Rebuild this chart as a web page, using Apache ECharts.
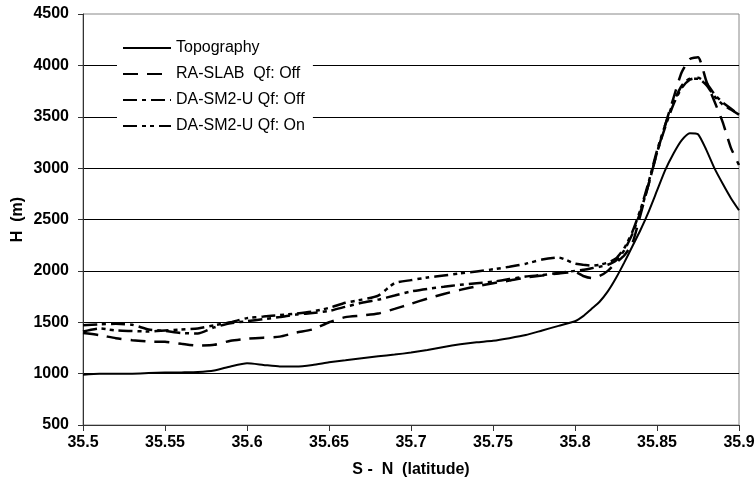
<!DOCTYPE html>
<html>
<head>
<meta charset="utf-8">
<script src="https://cdn.jsdelivr.net/npm/echarts@6/dist/echarts.min.js"></script>
<style>
  html, body { margin: 0; padding: 0; background: #fff; }
  #chart { width: 756px; height: 489px; }
</style>
</head>
<body>
<div id="chart"></div>
<script>
// latitude positions (S - N)
var latitude = [
  35.50, 35.51, 35.52, 35.53, 35.54, 35.55, 35.56, 35.57, 35.58, 35.59,
  35.60, 35.61, 35.62, 35.63, 35.64, 35.65, 35.66, 35.67, 35.68, 35.69,
  35.70, 35.71, 35.72, 35.73, 35.74, 35.75, 35.76, 35.77, 35.78, 35.79,
  35.80, 35.805, 35.81, 35.815, 35.82, 35.825, 35.83, 35.835, 35.84, 35.845,
  35.85, 35.855, 35.86, 35.865, 35.87, 35.875, 35.88, 35.885, 35.89, 35.895,
  35.90
];

var topography = [
  990, 1000, 1000, 1000, 1005, 1010, 1012, 1015, 1030, 1070,
  1100, 1085, 1070, 1070, 1085, 1110, 1130, 1150, 1170, 1185,
  1205, 1230, 1260, 1285, 1305, 1320, 1345, 1375, 1420, 1465,
  1510, 1560, 1630, 1700, 1800, 1930, 2080, 2240, 2400, 2580,
  2780, 2980, 3140, 3270, 3340, 3330, 3180, 3000, 2850, 2710,
  2590
];

var raSlabOff = [
  1395, 1375, 1345, 1325, 1312, 1310, 1290, 1272, 1280, 1320,
  1340, 1350, 1360, 1400, 1430, 1500, 1550, 1565, 1585, 1630,
  1680, 1730, 1775, 1815, 1850, 1880, 1905, 1935, 1955, 1975,
  1990, 1950, 1930, 1950, 2000, 2080, 2150, 2270, 2550, 2850,
  3150, 3420, 3680, 3930, 4060, 4080, 3850, 3650, 3450, 3200,
  3030
];

var daSm2uOff = [
  1470, 1480, 1485, 1475, 1430, 1415, 1395, 1390, 1450, 1490,
  1510, 1530, 1550, 1575, 1590, 1610, 1650, 1690, 1720, 1760,
  1800, 1825, 1845, 1865, 1880, 1895, 1920, 1945, 1960, 1980,
  2000, 2010, 2025, 2040, 2060, 2100, 2200, 2360, 2580, 2850,
  3150, 3400, 3620, 3780, 3860, 3880, 3830, 3720, 3640, 3580,
  3520
];

var daSm2uOn = [
  1410, 1440, 1420, 1415, 1410, 1420, 1430, 1440, 1470, 1500,
  1540, 1555, 1570, 1585, 1605, 1640, 1690, 1720, 1760, 1880,
  1910, 1935, 1955, 1975, 1995, 2015, 2040, 2070, 2110, 2130,
  2070, 2060, 2050, 2060, 2080, 2120, 2220, 2380, 2600, 2870,
  3170, 3420, 3640, 3800, 3870, 3870, 3810, 3700, 3620, 3570,
  3520
];

var seriesNames = ['Topography', 'RA-SLAB  Qf: Off', 'DA-SM2-U Qf: Off', 'DA-SM2-U Qf: On'];

function pairs(vals) {
  return latitude.map(function (x, i) { return [x, vals[i]]; });
}

function makeLine(name, vals, type, width) {
  return {
    name: name,
    type: 'line',
    symbol: 'none',
    smooth: 0.2,
    data: pairs(vals),
    lineStyle: { color: '#000', width: width, type: type },
    itemStyle: { color: '#000' }
  };
}

var chart = echarts.init(document.getElementById('chart'), null, { renderer: 'canvas' });
var font = 'Liberation Sans, Arial, sans-serif';

chart.setOption({
  backgroundColor: '#fff',
  animation: false,
  grid: {
    left: 83, right: 17, top: 14, bottom: 64,
    outerBoundsMode: 'none',
    show: true, borderColor: '#888', borderWidth: 1
  },
  legend: {
    orient: 'vertical',
    left: 117, top: 35,
    padding: [5, 8, 6, 5],
    backgroundColor: '#fff',
    itemWidth: 48, itemHeight: 14, itemGap: 10,
    itemStyle: { opacity: 0 },
    textStyle: { fontFamily: font, fontSize: 16, color: '#000' },
    data: seriesNames
  },
  xAxis: {
    type: 'value',
    min: 35.5, max: 35.9, interval: 0.05,
    name: 'S -  N  (latitude)',
    nameLocation: 'middle',
    nameGap: 37,
    nameTextStyle: { fontFamily: font, fontSize: 16, fontWeight: 'bold', color: '#000' },
    axisLine: { lineStyle: { color: '#333', width: 1 } },
    axisTick: { show: true, inside: false, length: 6, lineStyle: { color: '#333' } },
    axisLabel: {
      fontFamily: font, fontSize: 16, fontWeight: 'bold', color: '#000', margin: 10,
      formatter: function (v) { return String(+v.toFixed(2)); }
    },
    splitLine: { show: false }
  },
  yAxis: {
    type: 'value',
    min: 500, max: 4500, interval: 500,
    name: 'H  (m)',
    nameLocation: 'middle',
    nameGap: 57,
    nameMoveOverlap: false,
    nameTextStyle: { fontFamily: font, fontSize: 16, fontWeight: 'bold', color: '#000' },
    axisLine: { show: true, lineStyle: { color: '#333', width: 1 } },
    axisTick: { show: true, inside: false, length: 5, lineStyle: { color: '#333' } },
    axisLabel: {
      fontFamily: font, fontSize: 16, fontWeight: 'bold', color: '#000', margin: 14,
      formatter: function (v) { return String(v); }
    },
    splitLine: { show: true, showMinLine: false, showMaxLine: false, lineStyle: { color: '#000', width: 1 } }
  },
  series: [
    makeLine(seriesNames[0], topography, 'solid', 2),
    makeLine(seriesNames[1], raSlabOff, [15, 9], 2.5),
    makeLine(seriesNames[2], daSm2uOff, [14, 5, 4, 5], 2.5),
    makeLine(seriesNames[3], daSm2uOn, [14, 5, 4, 4, 4, 5], 2.5)
  ]
});
</script>
</body>
</html>
